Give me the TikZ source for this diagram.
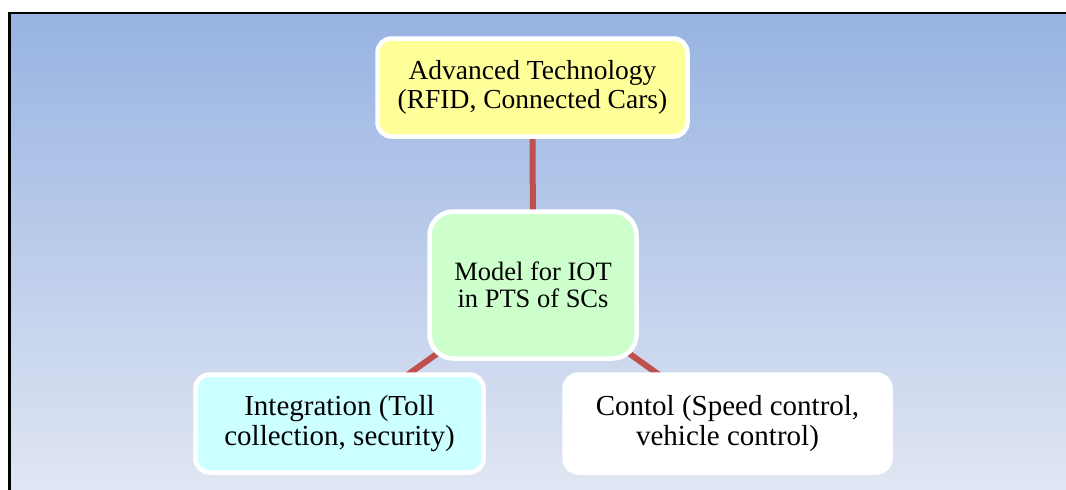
\documentclass[tikz,border=0pt]{standalone}
\usepackage{fontspec}
\setmainfont{Liberation Serif}
\pgfdeclarelayer{back}
\pgfdeclarelayer{lines}
\pgfsetlayers{back,lines,main}
\definecolor{bgtop}{RGB}{151,179,226}
\definecolor{bgbot}{RGB}{224,230,243}
\definecolor{linkred}{RGB}{192,80,77}
\definecolor{boxyellow}{RGB}{255,255,153}
\definecolor{boxgreen}{RGB}{204,255,204}
\definecolor{boxcyan}{RGB}{204,255,255}
\tikzset{
  box/.style={draw=white, line width=4.5pt, rounded corners=14pt, align=center,
    inner sep=0pt, text=black},
  link/.style={draw=linkred, line width=6pt}
}
\begin{document}
\begin{tikzpicture}[x=1pt,y=-1pt]
\useasboundingbox (0,0) rectangle (1066,490);
\begin{pgfonlayer}{back}
\fill[white] (0,0) rectangle (1066,490);
\shade[top color=bgtop, bottom color=bgbot] (9.5,12.8) rectangle (1066,490);
\draw[black, line width=2.5pt] (9.5,490) -- (9.5,12.8) -- (1066,12.8);
\end{pgfonlayer}

\node[box, fill=boxyellow, minimum width=310pt, minimum height=98pt,
  font=\fontsize{27.5}{28.5}\selectfont] (tech) at (532.5,87.5)
  {Advanced Technology\\(RFID, Connected Cars)};
\node[box, fill=boxgreen, rounded corners=24pt, minimum width=207pt, minimum height=147pt,
  font=\fontsize{26.5}{27.5}\selectfont] (model) at (533,285)
  {Model for IOT\\in PTS of SCs};
\node[box, fill=boxcyan, minimum width=288pt, minimum height=98pt,
  font=\fontsize{29}{29.5}\selectfont] (integ) at (339.5,423.5)
  {Integration (Toll\\collection, security)};
\node[box, fill=white, minimum width=326pt, minimum height=98pt,
  font=\fontsize{29}{29.5}\selectfont] (ctrl) at (727.5,423.5)
  {Contol (Speed control,\\vehicle control)};

\begin{pgfonlayer}{lines}
\draw[link] (tech.center) -- (model.center);
\draw[link] (model.center) -- (integ.center);
\draw[link] (model.center) -- (ctrl.center);
\end{pgfonlayer}
\end{tikzpicture}
\end{document}
